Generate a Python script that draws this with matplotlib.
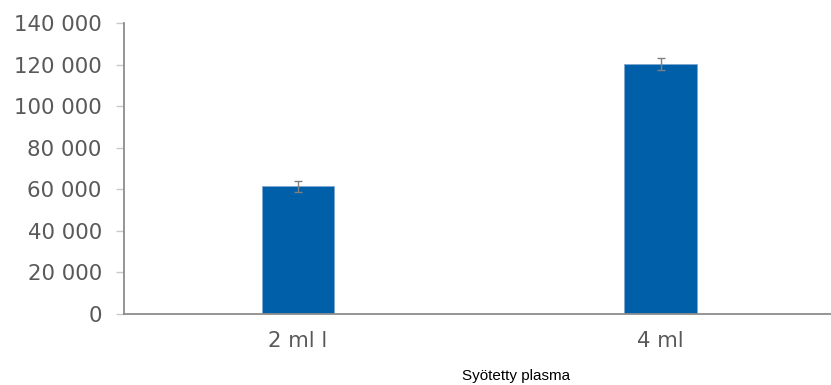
import matplotlib
matplotlib.use("Agg")
import matplotlib.pyplot as plt

categories = ["2 ml l", "4 ml"]
values = [61500, 120300]
errors = [2600, 2800]
yticks = [0, 20000, 40000, 60000, 80000, 100000, 120000, 140000]
ytick_labels = ["0", "20 000", "40 000", "60 000", "80 000", "100 000", "120 000", "140 000"]
xlabel = "Syötetty plasma"

fig = plt.figure(figsize=(8.31, 3.85), dpi=100)
ax = fig.add_axes([124 / 831, 71 / 385, 707 / 831, 291 / 385])

x = [0, 1]
ax.bar(x, values, width=0.2, color="#005fa9", edgecolor="#7fa7d0", linewidth=0.6, zorder=2)
ax.errorbar(x, values, yerr=errors, fmt="none", ecolor="#808080", elinewidth=1,
            capsize=3, capthick=1, zorder=3)

ax.set_xlim(-0.48, 1.47)
ax.set_ylim(0, 140000)
ax.set_xticks(x)
ax.set_xticklabels(categories)
ax.set_yticks(yticks)
ax.set_yticklabels(ytick_labels)

for s in ["top", "right"]:
    ax.spines[s].set_visible(False)
for s in ["left", "bottom"]:
    ax.spines[s].set_color("#8c8c8c")
    ax.spines[s].set_linewidth(1.3)

ax.tick_params(axis="y", length=6, color="#c8c8c8", width=1, pad=10,
               labelsize=15.3, labelcolor="#595959")
ax.tick_params(axis="x", length=0, pad=12, labelsize=15.3, labelcolor="#595959")

fig.text(516 / 831, 1 - 376 / 385, xlabel, ha="center", va="center",
         fontsize=11, family="Liberation Sans", color="black")

fig.savefig("out.png", dpi=100)
